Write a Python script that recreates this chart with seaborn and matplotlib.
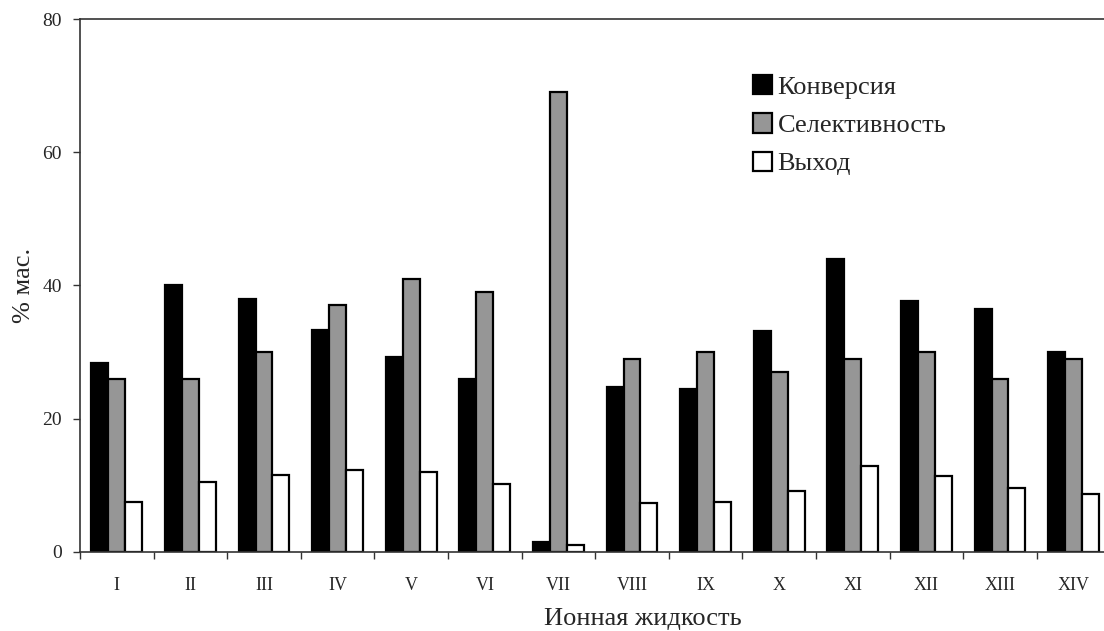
import numpy as np
import pandas as pd
import matplotlib
matplotlib.use("Agg")
import matplotlib.pyplot as plt
import seaborn as sns
from matplotlib.ticker import FixedLocator

categories = ["I", "II", "III", "IV", "V", "VI", "VII", "VIII", "IX", "X", "XI", "XII", "XIII", "XIV"]
conversion = [28.3, 40.0, 38.0, 33.3, 29.2, 26.0, 1.5, 24.8, 24.5, 33.2, 43.9, 37.6, 36.4, 30.0]
selectivity = [26, 26, 30, 37, 41, 39, 69, 29, 30, 27, 29, 30, 26, 29]
yield_ = [7.4, 10.5, 11.5, 12.3, 12.0, 10.2, 1.0, 7.3, 7.4, 9.1, 12.8, 11.3, 9.5, 8.7]
series_names = ["Конверсия", "Селективность", "Выход"]

df = pd.DataFrame({
    "cat": categories * 3,
    "val": conversion + selectivity + yield_,
    "series": [series_names[0]] * 14 + [series_names[1]] * 14 + [series_names[2]] * 14,
})

sns.set_theme(style="white")
plt.rcParams["font.family"] = ["Liberation Serif", "DejaVu Serif"]

fig = plt.figure(figsize=(11.04, 6.31), dpi=100)
ax = fig.add_axes([80 / 1104, 1 - 551.7 / 631, 1.02, (551.7 - 19) / 631])

sns.barplot(data=df, x="cat", y="val", hue="series", order=categories,
            hue_order=series_names, palette=["#000000", "#969696", "#ffffff"],
            edgecolor="black", linewidth=1.6, width=0.69, ax=ax, saturation=1)

ax.set_xlim(-0.5, -0.5 + (1104 * 1.02) / 73.6)
ax.set_ylim(0, 80)
ax.set_yticks([0, 20, 40, 60, 80])
ax.tick_params(axis="y", which="major", direction="out", length=5, width=1,
               color="#333333", labelsize=14, pad=8, left=True)
ax.tick_params(axis="x", which="major", length=0, labelsize=13, pad=18)
ax.xaxis.set_minor_locator(FixedLocator(np.arange(-0.5, 14, 1.0)))
ax.tick_params(axis="x", which="minor", direction="out", length=5, width=1,
               color="#333333", bottom=True)

for s in ["left", "bottom", "top"]:
    ax.spines[s].set_visible(True)
    ax.spines[s].set_color("#333333")
    ax.spines[s].set_linewidth(1.2)
ax.spines["right"].set_visible(False)

ax.set_xlabel("Ионная жидкость", fontsize=19, labelpad=10)
ax.set_ylabel("% мас.", fontsize=19, labelpad=5)

leg = ax.legend(loc="upper left", bbox_to_anchor=((742 - 80) / (1104 * 1.02), 0.915),
                frameon=False, fontsize=19, handlelength=0.75, handleheight=0.75,
                handletextpad=0.2, labelspacing=0.55, borderaxespad=0)

fig.savefig("out.png", dpi=100)
